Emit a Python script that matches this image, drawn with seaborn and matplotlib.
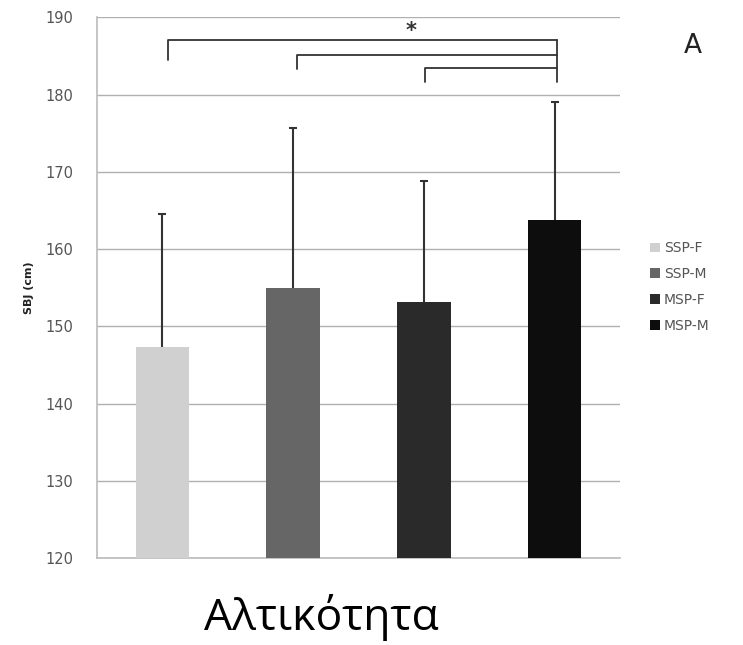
import matplotlib
matplotlib.use("Agg")
import matplotlib.pyplot as plt
import seaborn as sns
import pandas as pd
import numpy as np
from matplotlib.patches import Patch

categories = ["SSP-F", "SSP-M", "MSP-F", "MSP-M"]
means = [147.3, 155.0, 153.2, 163.8]
sd_upper = [17.2, 20.7, 15.6, 15.3]
colors = ["#d0d0d0", "#666666", "#2a2a2a", "#0d0d0d"]
yticks = [120, 130, 140, 150, 160, 170, 180, 190]

sns.set_theme(style="white")
plt.rcParams['font.family'] = ['DejaVu Sans']

fig = plt.figure(figsize=(7.43, 6.45), dpi=100)
ax = fig.add_axes([0.1305, 0.1349, 0.704, 0.838])

df = pd.DataFrame({"group": categories, "value": means})
sns.barplot(data=df, x="group", y="value", hue="group", palette=colors,
            width=0.41, legend=False, ax=ax, zorder=3, linewidth=0)

xpos = np.arange(len(categories))
tops = np.array(means) + np.array(sd_upper)
ax.vlines(xpos, means, tops, color="#333333", linewidth=1.5, zorder=4)
ax.hlines(tops, xpos - 0.03, xpos + 0.03, color="#333333", linewidth=1.5, zorder=4)

ax.set_ylim(120, 190)
ax.set_xlim(-0.5, 3.5)
ax.set_yticks(yticks)
ax.set_yticklabels([str(t) for t in yticks], fontsize=10.5, color="#555555")
ax.set_xticks([])
ax.set_xlabel("")
ax.set_ylabel("SBJ (cm)", fontsize=8, fontweight="bold", color="#222222", labelpad=8)
ax.tick_params(axis="y", length=0, pad=17)
ax.yaxis.grid(True, color="#b0b0b0", linewidth=1.0, zorder=0)
ax.set_axisbelow(True)
for s in ["top", "right"]:
    ax.spines[s].set_visible(False)
for s in ["left", "bottom"]:
    ax.spines[s].set_color("#bbbbbb")
    ax.spines[s].set_linewidth(1.2)

# significance brackets
lc = "#333333"
xr = 3.02
ax.plot([0.04, 0.04, xr], [184.5, 187.1, 187.1], color=lc, lw=1.3, clip_on=False, zorder=5)
ax.plot([1.03, 1.03, xr], [183.3, 185.2, 185.2], color=lc, lw=1.3, clip_on=False, zorder=5)
ax.plot([2.01, 2.01, xr], [181.7, 183.4, 183.4], color=lc, lw=1.3, clip_on=False, zorder=5)
ax.plot([xr, xr], [181.7, 187.1], color=lc, lw=1.3, clip_on=False, zorder=5)
ax.text(1.9, 188.3, "*", ha="center", va="center", fontsize=15, fontweight="bold", color=lc)

fig.text(0.932, 0.928, "A", fontsize=19, color="#222222", ha="center", va="center")

handles = [Patch(facecolor=c, edgecolor="none") for c in colors]
leg = fig.legend(handles, categories, loc="center left", bbox_to_anchor=(0.858, 0.555),
                 frameon=False, fontsize=10, handlelength=0.7, handleheight=0.7,
                 handletextpad=0.3, labelspacing=0.85)
for t in leg.get_texts():
    t.set_color("#555555")

fig.text(0.433, 0.024, "Αλτικότητα", fontsize=32, family=["Open Sans", "DejaVu Sans"],
         ha="center", va="baseline", color="black")

fig.savefig("out.png", dpi=100)
